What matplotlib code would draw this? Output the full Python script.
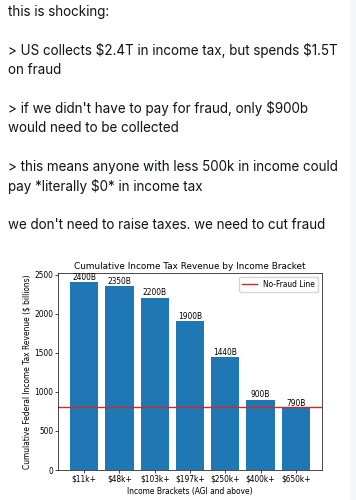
import matplotlib
matplotlib.use("Agg")
import matplotlib.pyplot as plt

plt.rcParams["text.parse_math"] = False

# tweet text
tweet_lines = [
    "this is shocking:",
    "> US collects $2.4T in income tax, but spends $1.5T",
    "on fraud",
    "> if we didn't have to pay for fraud, only $900b",
    "would need to be collected",
    "> this means anyone with less 500k in income could",
    "pay *literally $0* in income tax",
    "we don't need to raise taxes. we need to cut fraud",
]
line_y = [12, 51, 70, 108, 128, 167, 186, 225]

# chart data
brackets = ["$11k+", "$48k+", "$103k+", "$197k+", "$250k+", "$400k+", "$650k+"]
revenue = [2400, 2350, 2200, 1900, 1440, 900, 790]
no_fraud = 800

W, H = 356, 500
fig = plt.figure(figsize=(W / 100, H / 100), dpi=100)
fig.patch.set_facecolor("white")

# light strip at the right edge of the screenshot
fig.patches.append(plt.Rectangle((350 / W, 0), 6 / W, 1, transform=fig.transFigure,
                                 facecolor="#f5f7f8", edgecolor="none", zorder=0))

for txt, y in zip(tweet_lines, line_y):
    fig.text(7.5 / W, 1 - y / H, txt, fontsize=9.7, family="Inter",
             color="#0f1419", va="center", ha="left")

s = 0.545
ax = fig.add_axes([58 / W, 30 / H, 264 / W, 197 / H])
bars = ax.bar(brackets, revenue, color="#1f77b4")
ax.bar_label(bars, labels=[f"{v}B" for v in revenue], fontsize=10 * s, padding=0.5)
ax.axhline(no_fraud, color="#d62728", linewidth=1.0, label="No-Fraud Line")
ax.legend(fontsize=10 * s, loc="upper right", handlelength=2, borderpad=0.4)
ax.set_title("Cumulative Income Tax Revenue by Income Bracket", fontsize=6.4, pad=3)
ax.set_xlabel("Income Brackets (AGI and above)", fontsize=10 * s, labelpad=2)
ax.set_ylabel("Cumulative Federal Income Tax Revenue ($ billions)", fontsize=10 * s, labelpad=2)
ax.tick_params(labelsize=10 * s, length=2, width=0.5, pad=1.5)
for sp in ax.spines.values():
    sp.set_linewidth(0.5)

fig.savefig("out.png", dpi=100)
